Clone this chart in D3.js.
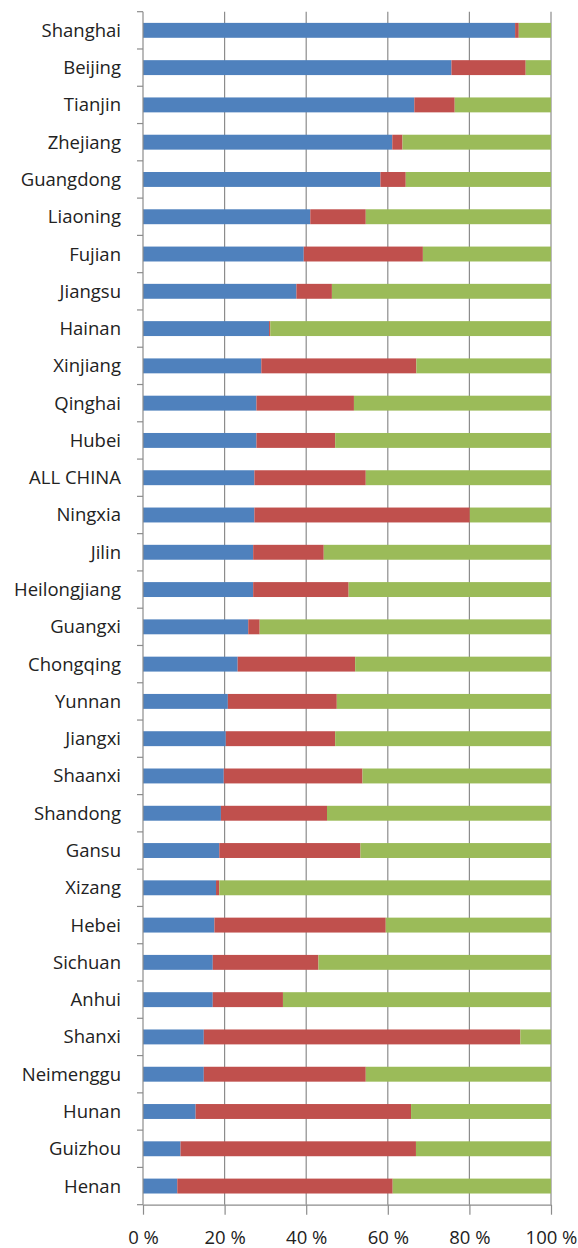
<!DOCTYPE html>
<html>
<head>
<meta charset="utf-8">
<script src="https://cdn.jsdelivr.net/npm/d3@7/dist/d3.min.js"></script>
<style>
  html, body { margin: 0; padding: 0; background: #fff; }
  svg { display: block; }
  text { font-family: "Open Sans", "Liberation Sans", sans-serif; fill: #222; }
</style>
</head>
<body>
<svg id="chart" width="578" height="1248"></svg>
<script>
// Provinces, top to bottom
const provinces = [
  "Shanghai", "Beijing", "Tianjin", "Zhejiang", "Guangdong", "Liaoning",
  "Fujian", "Jiangsu", "Hainan", "Xinjiang", "Qinghai", "Hubei",
  "ALL CHINA", "Ningxia", "Jilin", "Heilongjiang", "Guangxi", "Chongqing",
  "Yunnan", "Jiangxi", "Shaanxi", "Shandong", "Gansu", "Xizang",
  "Hebei", "Sichuan", "Anhui", "Shanxi", "Neimenggu", "Hunan",
  "Guizhou", "Henan"
];

// Share of each part (%), same order as provinces
const blueShare = [
  91.2, 75.6, 66.5, 61.1, 58.2, 41.0,
  39.4, 37.6, 30.9, 29.0, 27.8, 27.8,
  27.3, 27.3, 27.0, 27.0, 25.8, 23.2,
  20.8, 20.3, 19.8, 19.1, 18.7, 17.9,
  17.5, 17.1, 17.1, 14.9, 14.9, 12.9,
  9.2, 8.4
];
const redShare = [
  0.9, 18.2, 9.9, 2.5, 6.2, 13.6,
  29.2, 8.7, 0.3, 38.0, 23.9, 19.3,
  27.3, 52.8, 17.3, 23.4, 2.8, 28.8,
  26.7, 26.8, 34.0, 26.0, 34.6, 0.8,
  42.0, 25.9, 17.2, 77.6, 39.7, 52.8,
  57.7, 52.8
];
const greenShare = [
  7.9, 6.2, 23.6, 36.4, 35.6, 45.4,
  31.4, 53.7, 68.8, 33.0, 48.3, 52.9,
  45.4, 19.9, 55.7, 49.6, 71.4, 48.0,
  52.5, 52.9, 46.2, 54.9, 46.7, 81.3,
  40.5, 57.0, 65.7, 7.5, 45.4, 34.3,
  33.1, 38.8
];

const xTicks = [0, 20, 40, 60, 80, 100];
const xTickLabels = ["0 %", "20 %", "40 %", "60 %", "80 %", "100 %"];

const seriesKeys = ["blue", "red", "green"];
const seriesColors = { blue: "#4F81BD", red: "#C0504D", green: "#9BBB59" };

const table = provinces.map((p, i) => ({
  province: p,
  blue: blueShare[i],
  red: redShare[i],
  green: greenShare[i]
}));

const svg = d3.select("#chart");
const plotLeft = 143, plotRight = 551, plotTop = 11.7, plotBottom = 1204.7;

const x = d3.scaleLinear().domain([0, 100]).range([plotLeft, plotRight]);
const y = d3.scaleBand()
  .domain(provinces)
  .range([plotTop, plotBottom])
  .paddingInner(0.6)
  .paddingOuter(0.3);

const gridColor = "#8c8c8c";

// Vertical gridlines
svg.append("g")
  .selectAll("line")
  .data(xTicks.filter(d => d > 0))
  .join("line")
  .attr("x1", d => x(d)).attr("x2", d => x(d))
  .attr("y1", plotTop).attr("y2", plotBottom)
  .attr("stroke", gridColor)
  .attr("stroke-width", 1.2);

// Stacked bars
const stacked = d3.stack().keys(seriesKeys)(table);
svg.append("g")
  .selectAll("g")
  .data(stacked)
  .join("g")
  .attr("fill", s => seriesColors[s.key])
  .selectAll("rect")
  .data(s => s)
  .join("rect")
  .attr("x", d => x(d[0]))
  .attr("width", d => x(d[1]) - x(d[0]))
  .attr("y", d => y(d.data.province))
  .attr("height", y.bandwidth());

// Category axis: line plus ticks at band boundaries
const step = y.step();
const boundaries = provinces.map(p => y(p) - step * y.paddingInner() / 2)
  .concat([plotBottom]);
const yAxis = svg.append("g");
yAxis.append("line")
  .attr("x1", plotLeft).attr("x2", plotLeft)
  .attr("y1", plotTop).attr("y2", plotBottom)
  .attr("stroke", gridColor).attr("stroke-width", 1.2);
yAxis.selectAll("line.tick")
  .data(boundaries)
  .join("line")
  .attr("class", "tick")
  .attr("x1", plotLeft - 6).attr("x2", plotLeft)
  .attr("y1", d => d).attr("y2", d => d)
  .attr("stroke", gridColor).attr("stroke-width", 1.2);
yAxis.selectAll("text")
  .data(provinces)
  .join("text")
  .attr("x", 121)
  .attr("y", d => y(d) + y.bandwidth() / 2)
  .attr("dy", "0.35em")
  .attr("text-anchor", "end")
  .attr("font-size", 18.5)
  .text(d => d);

// Value axis
const xAxis = svg.append("g")
  .attr("transform", `translate(0,${plotBottom})`)
  .call(d3.axisBottom(x)
    .tickValues(xTicks)
    .tickFormat((d, i) => xTickLabels[i])
    .tickSize(10)
    .tickSizeOuter(0));
xAxis.select(".domain").attr("stroke", gridColor).attr("stroke-width", 1.2);
xAxis.selectAll(".tick line").attr("stroke", gridColor).attr("stroke-width", 1.2);
xAxis.selectAll(".tick text")
  .attr("y", 33)
  .attr("dy", "0.35em")
  .attr("font-size", 18.5)
  .attr("font-family", "'Open Sans', 'Liberation Sans', sans-serif")
  .attr("fill", "#222");
</script>
</body>
</html>
